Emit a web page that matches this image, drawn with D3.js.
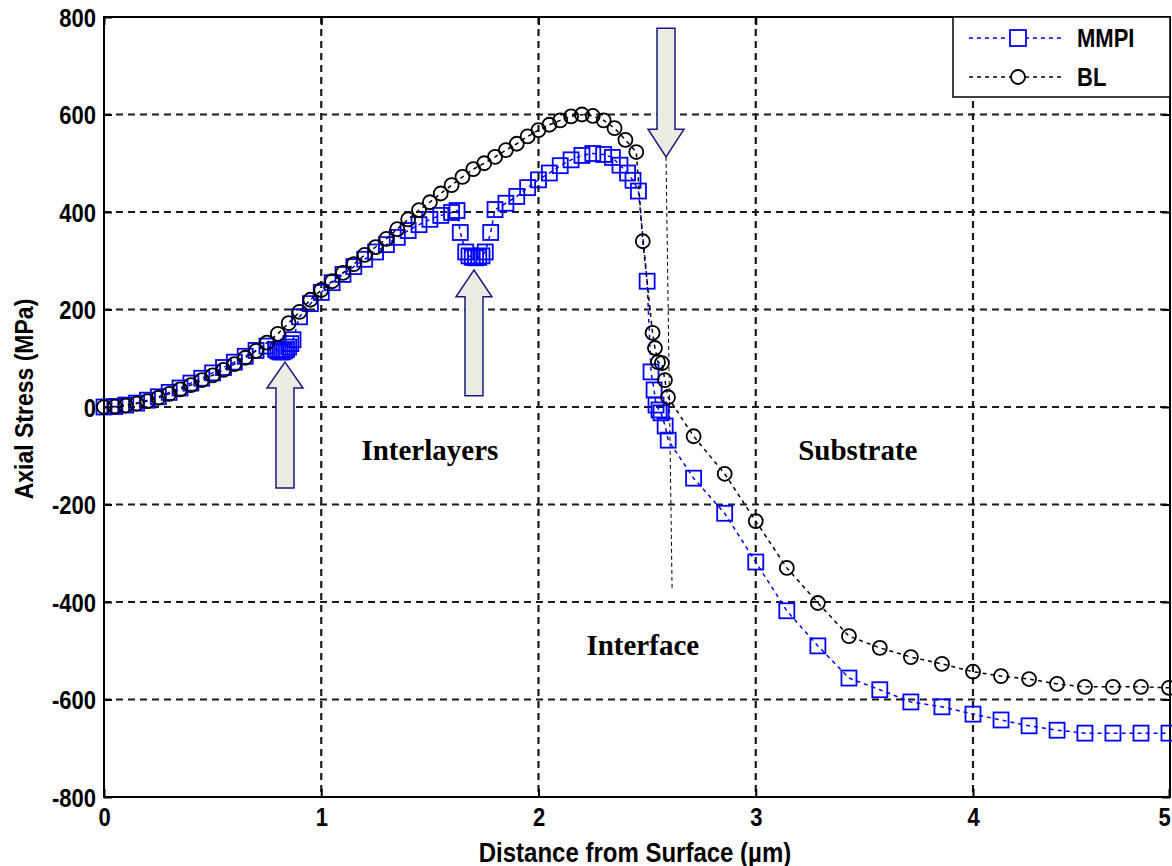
<!DOCTYPE html>
<html><head><meta charset="utf-8">
<script src="https://cdn.jsdelivr.net/npm/d3@7"></script>
<style>body{margin:0;background:#fff}svg{display:block}</style>
</head><body><svg id="c" width="1172" height="866"></svg>
<script>
// ---- data ----
const seriesNames = ["MMPI", "BL"];
const mmpiX = [0,0.05,0.10,0.15,0.20,0.25,0.30,0.35,0.40,0.45,0.50,0.55,0.60,0.65,0.70,0.75,
  0.79,0.80,0.81,0.82,0.83,0.84,0.85,0.86,0.87,
  0.90,0.95,1.00,1.05,1.10,1.15,1.20,1.25,1.30,1.35,1.40,1.45,1.50,1.55,1.60,1.625,
  1.64,1.665,1.68,1.695,1.71,1.725,1.74,1.755,1.78,
  1.80,1.85,1.90,1.95,2.00,2.05,2.10,2.15,2.20,2.25,2.30,2.34,2.375,2.41,2.435,2.46,
  2.50,2.518,2.532,2.541,2.555,2.564,2.583,2.597,
  2.714,2.857,3.0,3.143,3.286,3.429,3.571,3.714,3.857,4.0,4.143,4.286,4.429,4.571,4.714,4.857,5.0];
const mmpiY = [0,1,4,8,14,21,30,39,49,59,70,81,92,104,116,125,
  118,115,113,113,115,118,123,130,138,
  185,212,235,255,272,288,303,318,333,348,362,374,385,393,399,403,
  358,318,310,307,306,307,310,318,358,
  405,418,432,450,466,480,495,507,516,520,518,512,496,480,465,443,
  258,72,35,4,-6,-12,-39,-68,
  -146,-218,-318,-418,-490,-556,-580,-605,-615,-630,-642,-654,-663,-669,-669,-669,-669];
const blX = [0,0.05,0.10,0.15,0.20,0.25,0.30,0.35,0.40,0.45,0.50,0.55,0.60,0.65,0.70,0.75,0.80,0.85,0.90,0.95,
  1.00,1.05,1.10,1.15,1.20,1.25,1.30,1.35,1.40,1.45,1.50,1.55,1.60,1.65,1.70,1.75,1.80,1.85,1.90,1.95,
  2.00,2.05,2.10,2.15,2.20,2.25,2.30,2.35,2.40,2.45,
  2.48,2.525,2.536,2.55,2.568,2.582,2.596,
  2.714,2.857,3.0,3.143,3.286,3.429,3.571,3.714,3.857,4.0,4.143,4.286,4.429,4.571,4.714,4.857,5.0];
const blY = [0,1,3,7,12,19,27,36,45,55,65,76,88,101,115,132,150,172,195,220,
  240,258,275,293,312,328,345,365,385,404,420,438,455,472,488,500,513,527,540,555,
  568,579,588,596,600,597,588,572,548,523,
  340,152,121,92,90,55,20,
  -60,-137,-234,-330,-402,-470,-494,-513,-527,-543,-552,-558,-568,-574,-574,-574,-576];
const xTickValues = [0,1,2,3,4,5];
const xTickLabels = ["0","1","2","3","4","5"];
const yTickValues = [-800,-600,-400,-200,0,200,400,600,800];
const yTickLabels = ["-800","-600","-400","-200","0","200","400","600","800"];
const xTitle = "Distance from Surface (µm)";
const yTitle = "Axial Stress (MPa)";
const regionLabels = [
  {text:"Interlayers", x:1.50, y:-109},
  {text:"Substrate", x:3.47, y:-109},
  {text:"Interface", x:2.48, y:-509}
];
const arrows = [
  {x:0.833, tip:92, head:39, tail:-166},
  {x:1.703, tip:281, head:226, tail:23},
  {x:2.587, tip:513, head:570, tail:777}
];
const interfaceLine = [[2.587,513],[2.615,-375]];

// ---- chart ----
const svg = d3.select("#c");
const L=104, R=1170, T=17, B=797;
const x = d3.scaleLinear().domain([0,4,5]).range([104,973,1169]);
const y = d3.scaleLinear().domain([-800,800]).range([B,T]);
const SANS = "'Liberation Sans', Arial, sans-serif";
const SERIF = "'Liberation Serif', 'Times New Roman', serif";
const BLUE = "#0000ff";

// grid
const grid = svg.append("g").attr("stroke","#1a1a1a").attr("stroke-width",2.2).attr("stroke-dasharray","7,5");
grid.selectAll(".gx").data(xTickValues.filter(v=>v>0&&v<5)).join("line")
  .attr("x1",d=>x(d)).attr("x2",d=>x(d)).attr("y1",T).attr("y2",B);
grid.selectAll(".gy").data(yTickValues.filter(v=>v>-800&&v<800)).join("line")
  .attr("y1",d=>y(d)).attr("y2",d=>y(d)).attr("x1",L).attr("x2",R);

// axes
const styleAxis = g => {
  g.select(".domain").remove();
  g.selectAll("line").attr("stroke","#000").attr("stroke-width",2);
  g.attr("font-family",SANS).attr("font-size",22).attr("font-weight","bold");
  g.selectAll("text").attr("fill","#000");
};
const gx = svg.append("g").attr("transform",`translate(0,${B})`)
  .call(d3.axisBottom(x).tickValues(xTickValues).tickFormat((d,i)=>xTickLabels[i]).tickSizeInner(-8).tickSizeOuter(0));
styleAxis(gx);
gx.selectAll("text").attr("y",null).attr("dy",null)
  .attr("transform",d=>`translate(${d===5?-5:0},29) scale(1,1.13)`);
const gy = svg.append("g").attr("transform",`translate(${L},0)`)
  .call(d3.axisLeft(y).tickValues(yTickValues).tickFormat((d,i)=>yTickLabels[i]).tickSizeInner(-8).tickSizeOuter(0));
styleAxis(gy);
gy.selectAll("text").attr("x",-8).attr("dy",null).attr("transform","translate(0,9) scale(1,1.13)");
const gt = svg.append("g").attr("transform",`translate(0,${T})`)
  .call(d3.axisTop(x).tickValues(xTickValues).tickFormat("").tickSizeInner(-8).tickSizeOuter(0));
styleAxis(gt);
const gr = svg.append("g").attr("transform",`translate(${R},0)`)
  .call(d3.axisRight(y).tickValues(yTickValues).tickFormat("").tickSizeInner(-8).tickSizeOuter(0));
styleAxis(gr);
svg.append("rect").attr("x",L).attr("y",T).attr("width",R-L).attr("height",B-T)
  .attr("fill","none").attr("stroke","#000").attr("stroke-width",2);

// interface dashed line
svg.append("line").attr("x1",x(interfaceLine[0][0])).attr("y1",y(interfaceLine[0][1]))
  .attr("x2",x(interfaceLine[1][0])).attr("y2",y(interfaceLine[1][1]))
  .attr("stroke","#000").attr("stroke-width",1).attr("stroke-dasharray","4,3");

// series
const line = d3.line().x(d=>x(d[0])).y(d=>y(d[1]));
const mmpi = d3.zip(mmpiX, mmpiY);
const bl = d3.zip(blX, blY);
svg.append("path").datum(mmpi).attr("d",line).attr("fill","none").attr("stroke",BLUE)
  .attr("stroke-width",1.5).attr("stroke-dasharray","4,4");
svg.append("g").selectAll("rect").data(mmpi).join("rect")
  .attr("x",d=>x(d[0])-7.5).attr("y",d=>y(d[1])-7.5).attr("width",15).attr("height",15)
  .attr("fill","none").attr("stroke",BLUE).attr("stroke-width",1.8);
svg.append("path").datum(bl).attr("d",line).attr("fill","none").attr("stroke","#000")
  .attr("stroke-width",1.5).attr("stroke-dasharray","4,4");
svg.append("g").selectAll("circle").data(bl).join("circle")
  .attr("cx",d=>x(d[0])).attr("cy",d=>y(d[1])).attr("r",7)
  .attr("fill","none").attr("stroke","#000").attr("stroke-width",1.8);

// arrows
svg.append("g").selectAll("path").data(arrows).join("path")
  .attr("d",a=>{
    const X=x(a.x), tp=y(a.tip), hd=y(a.head), tl=y(a.tail);
    return `M${X},${tp}L${X+18},${hd}L${X+9},${hd}L${X+9},${tl}L${X-9},${tl}L${X-9},${hd}L${X-18},${hd}Z`;
  })
  .attr("fill","#ecebe2").attr("stroke","#1a1a80").attr("stroke-width",1.5);

// region labels
svg.append("g").selectAll("text").data(regionLabels).join("text")
  .attr("x",d=>x(d.x)).attr("y",d=>y(d.y)).attr("text-anchor","middle")
  .attr("font-family",SERIF).attr("font-size",29).attr("font-weight","bold").attr("fill","#000")
  .text(d=>d.text);

// axis titles
svg.append("text").attr("transform","translate(635,862) scale(1,1.13)").attr("text-anchor","middle")
  .attr("font-family",SANS).attr("font-size",24).attr("font-weight","bold").attr("fill","#000").text(xTitle);
svg.append("text").attr("transform","translate(33,399) rotate(-90) scale(1,1.13)").attr("text-anchor","middle")
  .attr("font-family",SANS).attr("font-size",23).attr("font-weight","bold").attr("fill","#000").text(yTitle);

// legend
const lg = svg.append("g");
lg.append("rect").attr("x",953).attr("y",T).attr("width",R-953).attr("height",80)
  .attr("fill","#fff").attr("stroke","#000").attr("stroke-width",1.5);
const legendRows = [{name:seriesNames[0], color:BLUE, shape:"square", cy:38},
                    {name:seriesNames[1], color:"#000", shape:"circle", cy:77}];
legendRows.forEach(r=>{
  lg.append("line").attr("x1",969).attr("x2",1063).attr("y1",r.cy).attr("y2",r.cy)
    .attr("stroke",r.color).attr("stroke-width",1.5).attr("stroke-dasharray","4,4");
  if(r.shape==="square"){
    lg.append("rect").attr("x",1018-8).attr("y",r.cy-8).attr("width",16).attr("height",16)
      .attr("fill","#fff").attr("stroke",r.color).attr("stroke-width",1.8);
  } else {
    lg.append("circle").attr("cx",1018).attr("cy",r.cy).attr("r",7)
      .attr("fill","#fff").attr("stroke",r.color).attr("stroke-width",1.8);
  }
  lg.append("text").attr("transform",`translate(1077,${r.cy+9}) scale(1,1.13)`)
    .attr("font-family",SANS).attr("font-size",22).attr("font-weight","bold").attr("fill","#000").text(r.name);
});
</script>
</body></html>
